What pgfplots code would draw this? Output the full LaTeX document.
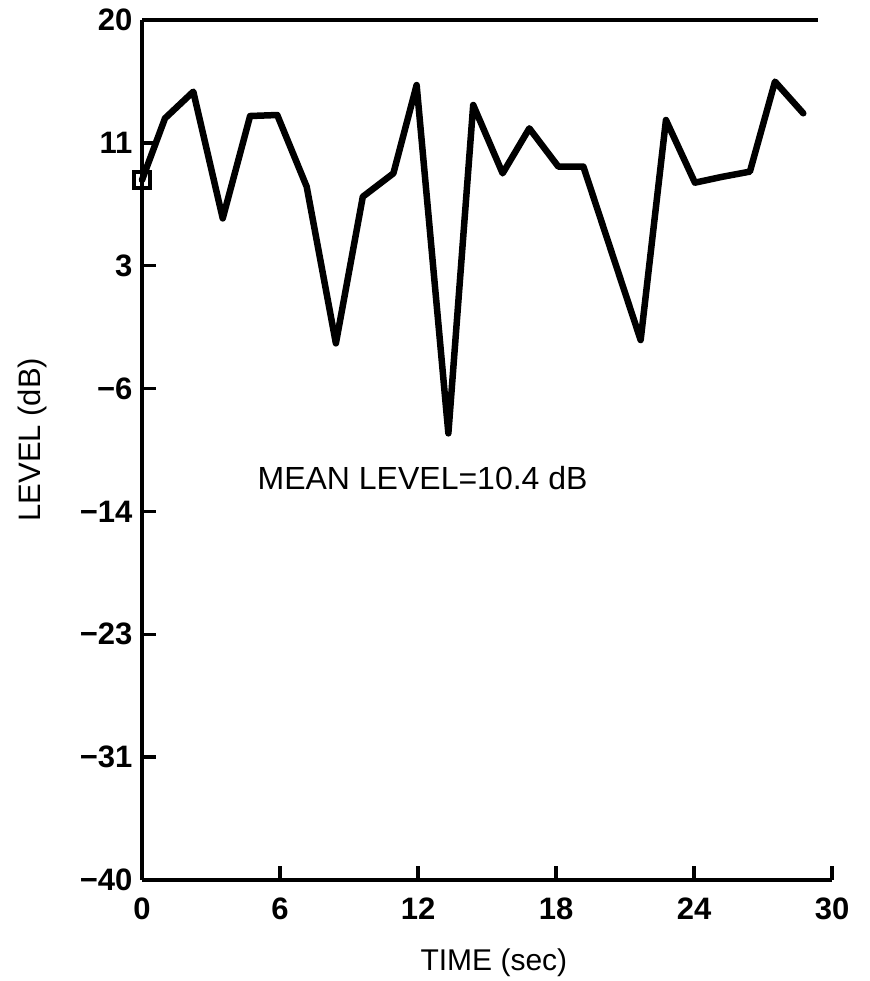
\documentclass[border=0pt]{standalone}
\usepackage{pgfplots}
\pgfplotsset{compat=1.18}
\usepackage{fontspec}
\setmainfont{Liberation Sans}
\begin{document}
\begin{tikzpicture}[x=1bp,y=1bp]
\useasboundingbox (0,0) rectangle (870,981);
\begin{axis}[
  at={(142bp,101bp)}, anchor=south west,
  width=690bp, height=860bp, scale only axis,
  xmin=0, xmax=30, ymin=-40, ymax=20,
  axis lines=left,
  axis line style={-, line width=4.5bp, black},
  clip=false,
  xtick={0,6,12,18,24,30},
  xticklabels={0,6,12,18,24,30},
  ytick={-40,-31.4286,-22.8571,-14.2857,-5.7143,2.8571,11.4286,20},
  yticklabels={−40,−31,−23,−14,−6,3,11,20},
  /pgf/number format/assume math mode=true,
  tick align=inside,
  major tick length=14bp,
  tick style={line width=3.5bp, black},
  ticklabel style={font=\fontsize{31bp}{33bp}\selectfont\bfseries},
  yticklabel style={xshift=-6bp},
  xticklabel style={yshift=-14bp},
]
\addplot[line width=4.5bp] coordinates {(0,20) (29.4,20)};
\addplot[line width=6.5bp, line join=round, line cap=round] coordinates {
(0,8.83) (1.0,13.14) (2.23,15.0) (3.51,6.16) (4.7,13.3) (5.88,13.37)
(7.16,8.37) (8.43,-2.56) (9.6,7.67) (10.93,9.3) (11.94,15.46)
(13.32,-8.84) (14.4,14.07) (15.68,9.3) (16.84,12.44) (18.1,9.77)
(19.19,9.77) (21.68,-2.33) (22.78,13.02) (24.04,8.65) (25.2,9.05)
(26.43,9.42) (27.52,15.7) (28.75,13.49)
};
\addplot[only marks, mark=square, mark size=8bp, mark options={line width=3.5bp, fill=white}] coordinates {(0,8.83)};
\node[font=\fontsize{32bp}{34bp}\selectfont] at (axis cs:12.2,-11.96) {MEAN LEVEL=10.4 dB};
\node[font=\fontsize{30bp}{32bp}\selectfont] at (axis description cs:0.51,-0.0965) {TIME (sec)};
\node[font=\fontsize{31bp}{33bp}\selectfont, rotate=90] at (axis description cs:-0.158,0.512) {LEVEL (dB)};
\end{axis}
\end{tikzpicture}
\end{document}
